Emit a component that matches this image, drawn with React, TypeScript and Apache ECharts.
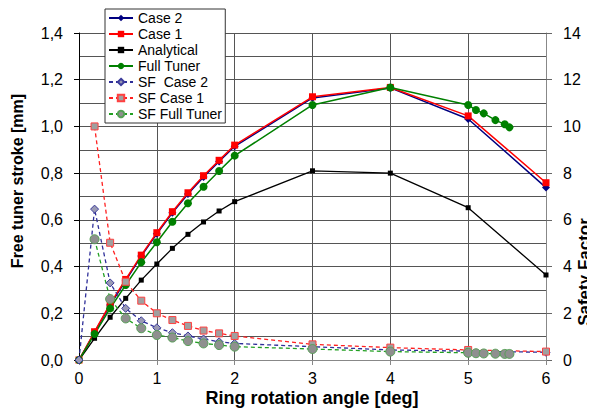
import React, { useEffect, useRef } from "react";
import * as echarts from "echarts";

const xMain = [0, 0.2, 0.4, 0.6, 0.8, 1.0, 1.2, 1.4, 1.6, 1.8, 2.0, 3, 4, 5, 6];
const case2 = [0, 0.118, 0.235, 0.34, 0.445, 0.54, 0.63, 0.711, 0.784, 0.85, 0.915, 1.122, 1.165, 1.032, 0.738];
const case1 = [0, 0.121, 0.24, 0.345, 0.449, 0.545, 0.635, 0.716, 0.789, 0.855, 0.92, 1.127, 1.167, 1.045, 0.759];
const analytical = [0, 0.093, 0.183, 0.264, 0.342, 0.411, 0.478, 0.538, 0.591, 0.638, 0.678, 0.81, 0.8, 0.652, 0.364];

const xFull = [0, 0.2, 0.4, 0.6, 0.8, 1.0, 1.2, 1.4, 1.6, 1.8, 2.0, 3, 4, 5, 5.1, 5.2, 5.35, 5.47, 5.53];
const fullTuner = [0, 0.111, 0.221, 0.321, 0.418, 0.504, 0.592, 0.671, 0.742, 0.809, 0.875, 1.092, 1.167, 1.092, 1.07, 1.056, 1.027, 1.009, 0.996];

const sfCase2 = [0, 6.46, 3.3, 2.21, 1.68, 1.38, 1.17, 1.03, 0.9, 0.78, 0.71, 0.57, 0.43, 0.38, 0.33];
const xSf1 = [0.2, 0.4, 0.6, 0.8, 1.0, 1.2, 1.4, 1.6, 1.8, 2.0, 3, 4, 5, 6];
const sfCase1 = [10.0, 5.02, 3.35, 2.54, 2.0, 1.71, 1.46, 1.26, 1.14, 1.03, 0.67, 0.53, 0.43, 0.36];
const xSfFull = [0.2, 0.4, 0.6, 0.8, 1.0, 1.2, 1.4, 1.6, 1.8, 2.0, 3, 4, 5, 5.1, 5.2, 5.35, 5.47, 5.53];
const sfFull = [5.17, 2.61, 1.78, 1.36, 1.07, 0.96, 0.81, 0.71, 0.64, 0.57, 0.47, 0.36, 0.31, 0.29, 0.28, 0.27, 0.26, 0.26];

const xTitle = "Ring rotation angle [deg]";
const yLeftTitle = "Free tuner stroke [mm]";
const yRightTitle = "Safety Factor";

const FONT = "'Liberation Sans', Arial, sans-serif";

const pairs = (xs: number[], ys: number[]) => xs.map((x, i) => [x, ys[i]]);

export default function App() {
  const ref = useRef<HTMLDivElement>(null);
  useEffect(() => {
    if (!ref.current) return;
    const chart = echarts.init(ref.current, null, { renderer: "svg" });
    const gridColor = "#555";
    chart.setOption({
      animation: false,
      textStyle: { fontFamily: FONT },
      grid: { left: 79, right: 49, top: 33, bottom: 58 },
      legend: {
        orient: "vertical",
        left: 105,
        top: 9,
        padding: [2, 3, 2, 3],
        itemGap: 2,
        itemWidth: 24,
        itemHeight: 8,
        backgroundColor: "#fff",
        borderColor: "#333",
        borderWidth: 1,
        borderRadius: 0,
        textStyle: { fontSize: 14, fontFamily: FONT, color: "#000" },
        z: 10,
      },
      xAxis: {
        type: "value",
        min: 0,
        max: 6,
        interval: 1,
        axisLine: { show: true, lineStyle: { color: "#888" } },
        axisTick: { show: true, length: 5, lineStyle: { color: "#888" } },
        axisLabel: { fontSize: 16, color: "#000", margin: 10, fontFamily: FONT },
        splitLine: { show: true, lineStyle: { color: gridColor, width: 1 } },
      },
      yAxis: [
        {
          type: "value",
          min: 0,
          max: 1.4,
          interval: 0.2,
          axisLine: { show: true, lineStyle: { color: "#000" } },
          axisTick: { show: true, length: 5, lineStyle: { color: "#000" } },
          axisLabel: {
            fontSize: 16,
            color: "#000",
            margin: 16,
            fontFamily: FONT,
            formatter: (v: number) => v.toFixed(1).replace(".", ","),
          },
          splitLine: { show: true, lineStyle: { color: gridColor, width: 1 } },
          minorTick: { show: false, splitNumber: 2 },
          minorSplitLine: { show: true, lineStyle: { color: gridColor, width: 1 } },
        },
        {
          type: "value",
          min: 0,
          max: 14,
          interval: 2,
          position: "right",
          axisLine: { show: true, lineStyle: { color: "#888" } },
          axisTick: { show: true, length: 6, lineStyle: { color: "#666" } },
          axisLabel: { fontSize: 16, color: "#000", margin: 17, fontFamily: FONT },
          splitLine: { show: false },
        },
      ],
      graphic: [
        {
          type: "text",
          x: 17,
          y: 181,
          rotation: Math.PI / 2,
          style: { text: yLeftTitle, font: `bold 16px ${FONT}`, fill: "#000", textAlign: "center", textVerticalAlign: "middle" },
        },
        {
          type: "text",
          x: 584,
          y: 272,
          rotation: Math.PI / 2,
          style: { text: yRightTitle, font: `bold 17px ${FONT}`, fill: "#000", textAlign: "center", textVerticalAlign: "middle" },
        },
        {
          type: "text",
          x: 312,
          y: 398,
          style: { text: xTitle, font: `bold 18px ${FONT}`, fill: "#000", textAlign: "center", textVerticalAlign: "middle" },
        },
      ],
      series: [
        {
          name: "Case 2",
          type: "line",
          data: pairs(xMain, case2),
          symbol: "diamond",
          symbolSize: 8,
          lineStyle: { color: "#000080", width: 1.5 },
          itemStyle: { color: "#000080" },
        },
        {
          name: "Case 1",
          type: "line",
          data: pairs(xMain, case1),
          symbol: "rect",
          symbolSize: 7,
          lineStyle: { color: "#ff0000", width: 1.5 },
          itemStyle: { color: "#ff0000" },
        },
        {
          name: "Analytical",
          type: "line",
          data: pairs(xMain, analytical),
          symbol: "rect",
          symbolSize: 5,
          lineStyle: { color: "#000", width: 1.3 },
          itemStyle: { color: "#000" },
        },
        {
          name: "Full Tuner",
          type: "line",
          data: pairs(xFull, fullTuner),
          symbol: "circle",
          symbolSize: 8,
          lineStyle: { color: "#008000", width: 1.5 },
          itemStyle: { color: "#008000" },
        },
        {
          name: "SF  Case 2",
          type: "line",
          yAxisIndex: 1,
          data: pairs(xMain, sfCase2),
          symbol: "diamond",
          symbolSize: 8,
          lineStyle: { color: "#2e2e99", width: 1.3, type: [4, 3] },
          itemStyle: { color: "#9a9ab4", borderColor: "#3c3c9c", borderWidth: 1 },
        },
        {
          name: "SF Case 1",
          type: "line",
          yAxisIndex: 1,
          data: pairs(xSf1, sfCase1),
          symbol: "rect",
          symbolSize: 7,
          lineStyle: { color: "#ff2020", width: 1.3, type: [4, 3] },
          itemStyle: { color: "#a0a0a0", borderColor: "#ff4040", borderWidth: 1 },
        },
        {
          name: "SF Full Tuner",
          type: "line",
          yAxisIndex: 1,
          data: pairs(xSfFull, sfFull),
          symbol: "circle",
          symbolSize: 9,
          lineStyle: { color: "#22a022", width: 1.3, type: [4, 3] },
          itemStyle: { color: "#8f8f8f", borderColor: "#55a055", borderWidth: 1 },
        },
      ],
    });
    return () => chart.dispose();
  }, []);
  return <div ref={ref} style={{ width: 595, height: 418, margin: -8 }} />;
}
